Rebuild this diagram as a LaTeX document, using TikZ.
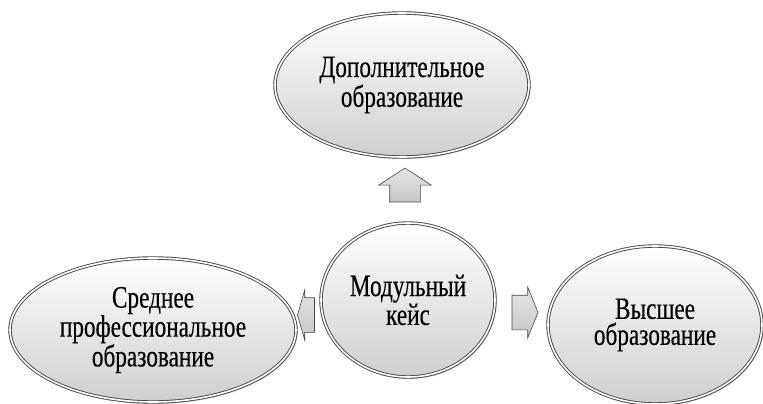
\documentclass[tikz,border=0pt]{standalone}
\usepackage{fontspec}
\setmainfont{Liberation Serif}
\newfontfamily\bubblefont[FakeStretch=0.75,FakeBold=0.3]{Liberation Serif}
\usepackage{xcolor}
\usetikzlibrary{shapes.geometric,shapes.arrows,shadows,calc}
\definecolor{rimGray}{RGB}{70,70,70}
\definecolor{arrGray}{RGB}{192,192,192}

\begin{document}
\begin{tikzpicture}[x=1pt,y=-1pt,
  bubble/.style={ellipse,draw=rimGray,line width=0.9pt,double=white,double distance=1.6pt,top color=white,bottom color=gray!38,inner sep=0pt,align=center,font=\bubblefont\fontsize{31}{23.5}\selectfont,drop shadow={shadow xshift=1.5pt,shadow yshift=-2pt,opacity=0.35}},
  blockarr/.style={single arrow,draw=rimGray,top color=gray!20,bottom color=gray!45,inner xsep=0pt,line width=0.6pt}]
  \fill[white] (0,0) rectangle (763,404);
  \useasboundingbox (0,0) rectangle (763,404);
  \node[bubble,minimum width=254pt,minimum height=144pt] (dop) at (402,85) {Дополнительное\\образование};
  \node[bubble,minimum width=174pt,minimum height=154pt,font=\bubblefont\fontsize{31}{25}\selectfont] (modul) at (408,300) {Модульный\\кейс};
  \node[bubble,minimum width=286pt,minimum height=144pt] (sred) at (153,330) {Среднее\\профессиональное\\образование};
  \node[bubble,minimum width=214pt,minimum height=158pt,font=\bubblefont\fontsize{31}{26}\selectfont] (vys) at (655,325) {Высшее\\образование};
  \node[blockarr,rotate=90,inner ysep=15pt,minimum height=34pt,single arrow head extend=11pt,single arrow tip angle=114] (upArr) at ($(modul.north)!0.5!(dop.south)$) {};
  \node[blockarr,rotate=180,inner ysep=17pt,minimum height=17pt,single arrow head extend=8pt,single arrow tip angle=148] (leftArr) at ($(modul.west)!0.5!(sred.east)$) {};
  \node[blockarr,inner ysep=17pt,minimum height=26pt,single arrow head extend=8pt,single arrow tip angle=136] (rightArr) at ($(modul.east)!0.5!(vys.west)$) {};
\end{tikzpicture}
\end{document}
